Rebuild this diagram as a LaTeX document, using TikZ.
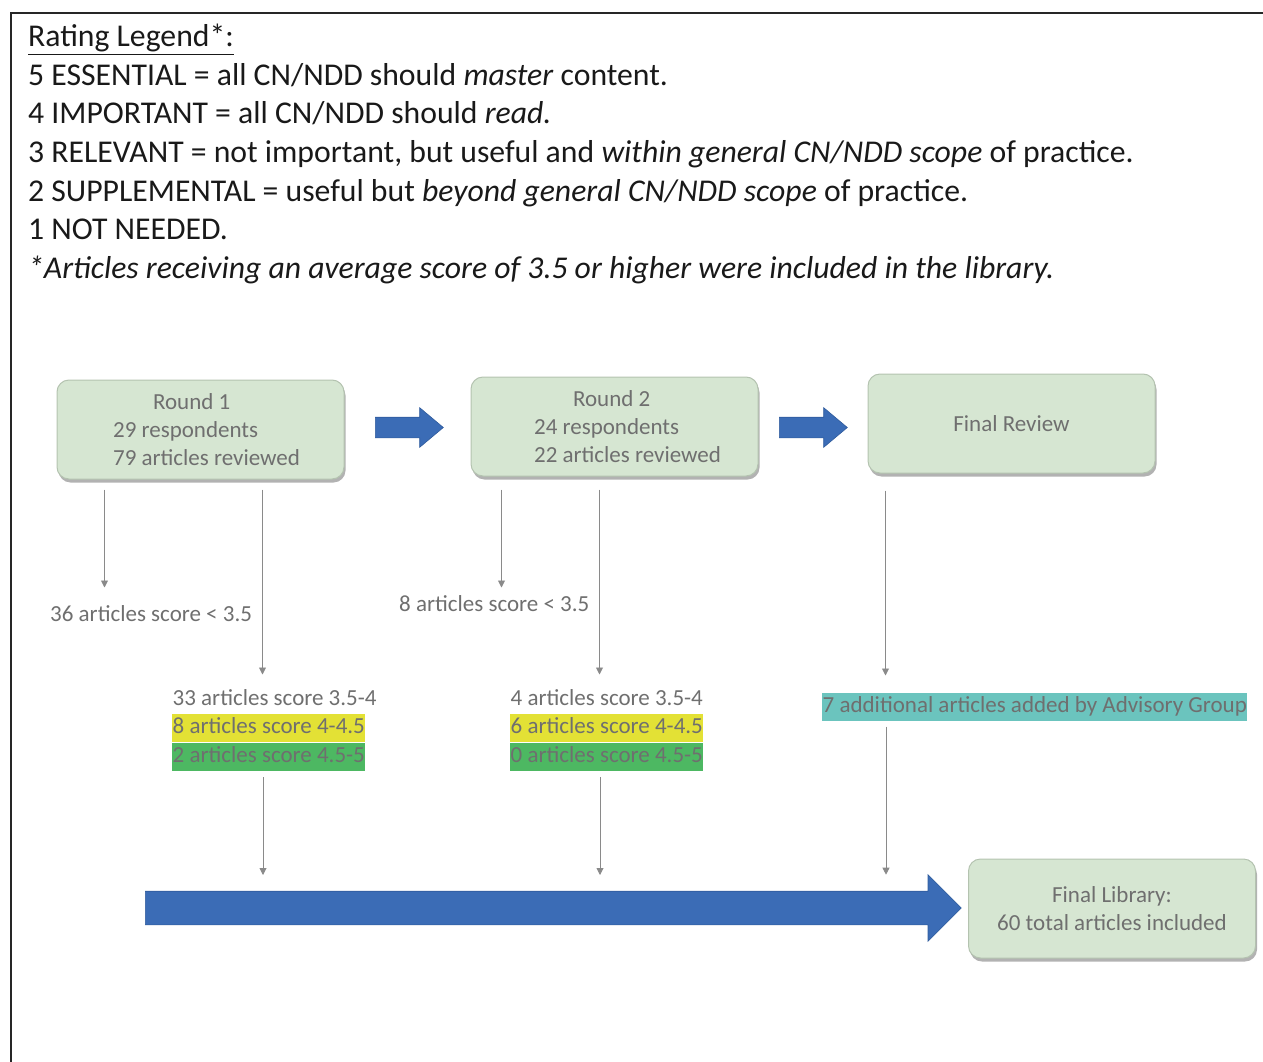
\documentclass[tikz,border=0pt]{standalone}
\usepackage{fontspec}
\setmainfont{Carlito}
\usetikzlibrary{arrows.meta,positioning,shapes.arrows,shadows}
\definecolor{delFill}{HTML}{D6E6D2}
\definecolor{delLine}{HTML}{B4C3B0}
\definecolor{delBlue}{HTML}{3B6CB6}
\definecolor{delBlueLine}{HTML}{2F5B9C}
\definecolor{delGrey}{HTML}{6F6F6F}
\definecolor{delLink}{HTML}{8A8A8A}
\definecolor{delYellow}{HTML}{E3E135}
\definecolor{delGreen}{HTML}{4DB862}
\definecolor{delTeal}{HTML}{6BC4BE}

\begin{document}
\begin{tikzpicture}[
  x=1pt, y=-1pt,
  legendline/.style={anchor=base west, inner sep=0pt, text=black!90,
    font=\fontsize{31.7}{38.6}\selectfont},
  stage/.style={rounded corners=12pt, draw=delLine, line width=1pt, fill=delFill,
    minimum width=287pt, minimum height=99pt, align=left, text=delGrey,
    font=\fontsize{23}{28}\selectfont,
    drop shadow={shadow xshift=1.5pt, shadow yshift=-3.5pt, fill=black!55, opacity=.55}},
  blockarrow/.style={single arrow, anchor=tail, fill=delBlue, draw=delBlueLine,
    line width=.6pt, inner sep=0pt},
  count/.style={anchor=west, text=delGrey, font=\fontsize{23}{28}\selectfont,
    inner xsep=.5pt, inner ysep=2.5pt, text height=17pt, text depth=6pt},
  link/.style={-{Triangle[length=7pt,width=7pt]}, draw=delLink, line width=.9pt}
]
  \useasboundingbox (0,0) rectangle (1263,1062);
  \draw[line width=2pt, black!85] (11,1062) -- (11,13) -- (1263,13);

  % legend
  \node[legendline] (leg0) at (28,47) {\underline{Rating Legend*:}};
  \node[legendline] (leg5) at (28,85.5) {5 ESSENTIAL = all CN/NDD should \emph{master} content.};
  \node[legendline] (leg4) at (28,124) {4 IMPORTANT = all CN/NDD should \emph{read.}};
  \node[legendline] (leg3) at (28,162.5) {3 RELEVANT = not important, but useful and \emph{within general CN/NDD scope} of practice.};
  \node[legendline] (leg2) at (28,201) {2 SUPPLEMENTAL = useful but \emph{beyond general CN/NDD scope} of practice.};
  \node[legendline] (leg1) at (28,239.5) {1 NOT NEEDED.};
  \node[legendline] (legnote) at (28,278) {\emph{*Articles receiving an average score of 3.5 or higher were included in the library.}};

  % stages
  \node[stage] (round1) at (200.5,429.5) {\hspace*{52pt}Round 1\\\hspace*{12pt}29 respondents\\\hspace*{12pt}79 articles reviewed};
  \node[stage] (round2) at (614.5,426.5) {\hspace*{65pt}Round 2\\\hspace*{26pt}24 respondents\\\hspace*{26pt}22 articles reviewed};
  \node[stage, align=center] (review) at (1011.5,423.5) {Final Review};
  \node[stage, align=center] (library) at (1112,908.5) {Final Library:\\60 total articles included};

  \node[blockarrow, minimum height=68pt, text height=10pt, text depth=10pt,
    single arrow head extend=9.5pt, single arrow tip angle=80] (go1) at (375,427.5) {};
  \node[blockarrow, minimum height=68pt, text height=10pt, text depth=10pt,
    single arrow head extend=9.5pt, single arrow tip angle=80] (go2) at (779,427.5) {};
  \node[blockarrow, minimum height=816pt, text height=16.5pt, text depth=16.5pt,
    single arrow head extend=16.5pt, single arrow tip angle=90] (gomain) at (145,908) {};

  % scores
  \node[count] (low1) at (49.5,616) {36 articles score < 3.5};
  \node[count] (low2) at (398.5,606) {8 articles score < 3.5};
  \node[count] (mid1) at (172,700) {33 articles score 3.5-4};
  \node[count, fill=delYellow, anchor=north west] (high1) at (mid1.south west) {8 articles score 4-4.5};
  \node[count, fill=delGreen, anchor=north west] (top1) at (high1.south west) {2 articles score 4.5-5};
  \node[count] (mid2) at (510,700) {4 articles score 3.5-4};
  \node[count, fill=delYellow, anchor=north west] (high2) at (mid2.south west) {6 articles score 4-4.5};
  \node[count, fill=delGreen, anchor=north west] (top2) at (high2.south west) {0 articles score 4.5-5};
  \node[count, fill=delTeal] (extra) at (822,706.5) {7 additional articles added by Advisory Group};

  % links
  \draw[link] ([xshift=48pt,yshift=-10pt]round1.south west) -- ++(0,98);
  \draw[link] ([xshift=206pt,yshift=-10pt]round1.south west) -- ++(0,185);
  \draw[link] ([xshift=31pt,yshift=-13pt]round2.south west) -- ++(0,98);
  \draw[link] ([xshift=129pt,yshift=-13pt]round2.south west) -- ++(0,185);
  \draw[link] ([xshift=18pt,yshift=-17pt]review.south west) -- ++(0,185);
  \draw[link] ([xshift=91pt,yshift=-6pt]top1.south west) -- ++(0,98);
  \draw[link] ([xshift=90pt,yshift=-6pt]top2.south west) -- ++(0,98);
  \draw[link] ([xshift=64pt,yshift=-6pt]extra.south west) -- ++(0,148);
\end{tikzpicture}
\end{document}
